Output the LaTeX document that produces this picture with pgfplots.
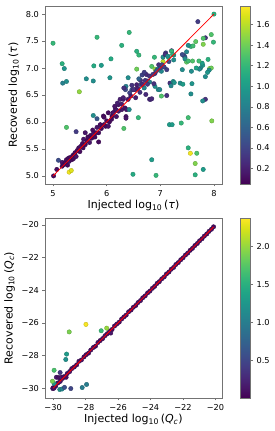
\documentclass[border=0pt]{standalone}
\usepackage{fontspec}
\setmainfont{DejaVu Sans}
\usepackage{pgfplots}
\pgfplotsset{compat=1.18}
\pgfplotstableread{
x y c
5.00 7.46 1.20
5.17 7.08 1.15
5.21 6.99 0.95
5.18 6.72 0.80
5.25 6.75 0.90
5.49 6.56 1.50
5.25 5.90 1.30
5.43 5.82 0.35
5.62 6.80 0.90
5.76 7.04 1.10
5.75 6.76 0.90
5.82 7.57 1.20
5.90 7.05 1.00
6.08 7.17 1.10
6.06 6.82 0.95
6.28 7.42 1.15
6.42 7.66 1.20
6.40 6.82 0.90
6.56 7.31 1.15
6.60 7.24 1.20
6.56 6.98 1.40
6.32 5.88 1.30
6.59 6.08 1.20
6.49 5.03 1.10
6.84 5.30 1.00
6.92 5.01 1.20
7.17 5.95 1.00
7.22 5.95 1.00
7.39 5.98 1.20
7.52 6.08 1.25
7.96 6.02 1.45
7.52 5.52 1.15
7.56 5.42 1.75
7.68 5.42 1.30
7.65 5.23 1.45
7.80 5.12 1.00
7.65 5.02 1.15
5.30 5.07 1.75
5.34 5.10 1.70
6.89 7.20 1.20
6.84 7.03 1.30
6.90 6.98 1.50
7.05 7.12 1.60
8.00 8.00 1.15
7.70 7.86 0.35
7.95 7.62 1.30
7.84 7.56 0.30
7.80 7.55 1.30
7.66 7.49 1.35
7.80 7.44 1.45
7.99 7.48 1.20
7.57 7.40 1.20
7.61 7.41 1.25
7.52 7.42 0.90
7.49 7.30 0.85
7.44 7.23 0.45
7.46 7.20 0.50
7.60 7.13 1.30
7.49 7.11 1.35
7.89 7.16 1.15
7.79 7.05 0.95
7.75 7.00 0.90
7.73 6.98 0.85
7.92 6.99 1.45
7.95 7.00 1.40
7.91 6.96 0.90
7.88 6.92 0.95
7.41 6.97 0.90
7.58 6.94 0.90
7.84 6.84 0.90
7.57 6.52 0.90
7.84 6.42 0.30
7.79 6.39 0.90
7.37 6.72 0.90
7.42 6.70 1.00
7.59 6.71 0.95
7.67 7.00 1.05
7.78 7.09 1.00
7.72 7.13 1.25
7.41 7.25 0.45
7.46 7.17 0.90
7.52 7.13 1.25
7.21 7.32 0.30
7.10 7.28 0.35
7.10 7.25 0.30
7.25 7.24 0.90
7.15 7.20 1.20
7.25 7.15 0.90
7.05 7.20 0.90
6.97 7.06 0.30
7.09 7.25 0.30
7.21 7.31 1.20
7.23 7.25 1.15
7.14 7.22 0.90
7.02 6.94 0.85
7.12 6.97 0.35
7.18 6.72 0.30
7.24 6.75 0.90
7.26 6.73 0.95
7.20 6.67 0.85
7.12 6.49 0.30
7.02 6.48 1.30
6.96 6.60 0.90
6.99 6.60 0.85
6.90 6.66 0.90
6.80 6.42 0.25
6.63 6.77 0.25
6.56 6.69 0.20
6.53 6.60 0.25
6.47 6.60 0.45
6.43 6.54 0.40
6.36 6.66 0.80
6.35 6.60 0.45
6.64 6.69 0.45
6.70 6.63 0.85
6.74 6.88 0.25
6.80 6.85 0.30
6.77 6.76 0.30
6.80 6.74 0.80
6.25 6.42 0.20
6.31 6.42 0.20
6.22 6.32 0.15
6.28 6.23 0.15
6.34 6.26 0.15
6.37 6.23 0.15
6.42 6.23 0.85
6.16 6.24 0.15
6.12 6.17 0.10
6.10 6.11 0.10
5.94 6.11 0.10
6.36 6.10 0.15
6.54 6.45 0.20
6.73 6.51 0.25
6.82 6.42 0.25
6.88 6.71 0.30
6.84 6.43 0.25
6.47 6.68 0.30
6.50 6.60 0.30
6.32 6.63 0.30
6.31 6.45 0.20
6.36 6.07 0.15
6.15 6.29 0.15
6.20 6.35 0.20
6.60 6.80 0.60
6.66 6.87 0.40
6.70 6.92 0.35
6.90 6.90 0.30
6.95 6.98 0.80
7.00 7.00 0.40
6.86 6.88 0.35
6.93 6.95 0.45
7.03 7.06 0.40
6.72 6.77 0.30
6.67 6.70 0.25
6.58 6.62 0.20
6.45 6.48 0.20
6.40 6.42 0.15
6.28 6.33 0.20
6.18 6.22 0.15
6.62 6.55 0.30
6.76 6.70 0.35
7.07 7.02 0.40
7.16 7.12 0.45
5.01 5.00 0.10
5.07 5.12 0.10
5.10 5.29 0.45
5.17 5.18 0.10
5.17 5.25 0.15
5.20 5.21 0.10
5.23 5.25 0.10
5.25 5.30 0.10
5.27 5.20 0.10
5.29 5.33 0.10
5.32 5.34 0.10
5.30 5.27 0.15
5.35 5.30 0.10
5.37 5.38 0.10
5.38 5.32 0.10
5.40 5.40 0.10
5.41 5.43 0.10
5.43 5.36 0.15
5.45 5.47 0.10
5.48 5.52 0.10
5.50 5.45 0.10
5.52 5.55 0.15
5.55 5.60 0.10
5.57 5.68 0.15
5.56 5.52 0.10
5.60 5.80 0.15
5.60 5.58 0.10
5.63 5.65 0.10
5.65 5.72 0.10
5.68 5.62 0.15
5.70 5.75 0.10
5.72 5.70 0.10
5.75 5.78 0.15
5.78 5.72 0.10
5.74 5.85 0.10
5.80 5.80 0.10
5.85 5.80 0.10
5.85 5.63 0.10
5.82 5.90 0.15
5.88 5.95 0.10
5.90 5.88 0.10
5.95 6.09 0.10
5.95 5.95 0.10
5.98 5.92 0.10
6.00 6.02 0.10
6.03 5.92 0.15
6.05 6.00 0.10
6.09 6.05 0.10
6.12 6.17 0.15
5.75 6.12 0.90
5.82 6.06 0.50
6.03 6.17 0.10
6.18 6.10 0.15
6.22 6.20 0.20
}\toptab
\pgfplotstableread{
x y c
-30.00 -29.97 0.08
-29.85 -29.88 0.10
-29.71 -29.68 0.08
-29.56 -29.58 0.12
-29.42 -29.40 0.10
-29.28 -29.30 0.08
-29.13 -29.10 0.10
-28.98 -28.98 0.12
-28.85 -28.80 0.08
-28.70 -28.70 0.10
-28.55 -28.57 0.08
-28.41 -28.35 0.10
-28.26 -28.27 0.12
-28.10 -28.08 0.08
-27.97 -27.95 0.10
-27.82 -27.85 0.08
-27.68 -27.66 0.10
-27.52 -27.50 0.12
-27.39 -27.42 0.08
-27.24 -27.20 0.10
-27.10 -27.08 0.08
-26.95 -26.96 0.10
-26.80 -26.78 0.12
-26.66 -26.66 0.08
-26.52 -26.50 0.10
-26.37 -26.40 0.08
-26.22 -26.19 0.10
-26.08 -26.07 0.12
-25.93 -25.95 0.08
-25.78 -25.76 0.10
-25.64 -25.63 0.08
-25.50 -25.52 0.10
-25.35 -25.32 0.12
-25.20 -25.21 0.08
-25.06 -25.04 0.10
-24.91 -24.93 0.08
-24.77 -24.75 0.10
-24.62 -24.63 0.12
-24.48 -24.46 0.08
-24.33 -24.34 0.10
-24.18 -24.16 0.08
-24.04 -24.05 0.10
-23.89 -23.88 0.12
-23.75 -23.76 0.08
-23.60 -23.58 0.10
-23.46 -23.47 0.08
-23.31 -23.30 0.10
-23.16 -23.18 0.12
-23.02 -23.00 0.08
-22.87 -22.88 0.10
-22.73 -22.71 0.08
-22.58 -22.60 0.10
-22.44 -22.42 0.12
-22.29 -22.30 0.08
-22.14 -22.13 0.10
-22.00 -22.01 0.08
-21.85 -21.84 0.10
-21.71 -21.72 0.12
-21.56 -21.55 0.08
-21.42 -21.43 0.10
-21.27 -21.26 0.08
-21.12 -21.13 0.10
-20.98 -20.97 0.12
-20.83 -20.84 0.08
-20.69 -20.68 0.10
-20.54 -20.55 0.08
-20.40 -20.39 0.10
-20.25 -20.26 0.12
-20.12 -20.11 0.08
-29.80 -29.33 0.15
-29.65 -29.35 0.10
-29.50 -29.34 0.15
-29.35 -29.30 0.10
-29.20 -29.33 0.10
-30.02 -30.02 0.10
-29.95 -30.00 0.10
-29.59 -30.08 1.20
-29.45 -30.05 1.10
-29.30 -29.95 0.60
-28.91 -30.02 0.50
-28.21 -29.96 1.00
-27.94 -29.77 1.00
-29.94 -29.71 1.20
-30.04 -29.57 1.90
-29.94 -28.90 1.70
-29.57 -29.04 0.40
-29.17 -27.91 1.30
-29.22 -28.24 1.20
-29.01 -26.55 1.90
-27.98 -26.09 2.35
-26.70 -26.32 2.00
-27.04 -26.48 1.60
-26.45 -26.62 0.15
}\bottab
\pgfplotsset{
  myax/.style={
    scale only axis, width=177pt, clip marker paths=true,
    axis line style={draw=black!55, line width=0.6pt},
    tick pos=left, tick align=outside, major tick length=2.5pt,
    tick style={draw=black!55, line width=0.5pt},
    ticklabel style={font=\fontsize{8.2}{9}\selectfont, text=black},
    label style={font=\fontsize{11}{13}\selectfont},
    xlabel style={yshift=2.5pt},
    /pgf/number format/assume math mode=true,
    colorbar, colormap name=viridis,
    colorbar style={
      width=10pt, at={(parent axis.north east)}, anchor=north west, xshift=10pt,
      axis line style={draw=black!55, line width=0.6pt},
      ytick pos=right, yticklabel pos=right, tick align=outside, major tick length=2.5pt,
      tick style={draw=black!55, line width=0.5pt},
      yticklabel style={font=\fontsize{8.2}{9}\selectfont, text=black},
      /pgf/number format/assume math mode=true,
    },
  },
}
\begin{document}
\begin{tikzpicture}
\useasboundingbox (0,0) rectangle (274pt,431pt);
\begin{axis}[myax, at={(45pt,247pt)}, anchor=south west, height=178pt,
  xmin=4.85, xmax=8.15, ymin=4.85, ymax=8.15,
  xtick={5,6,7,8}, xticklabels={5,6,7,8},
  ytick={5,5.5,6,6.5,7,7.5,8}, yticklabels={5.0,5.5,6.0,6.5,7.0,7.5,8.0},
  point meta min=0.05, point meta max=1.78,
  colorbar style={ytick={0.2,0.4,0.6,0.8,1.0,1.2,1.4,1.6}, yticklabels={0.2,0.4,0.6,0.8,1.0,1.2,1.4,1.6}},
  xlabel={Injected log\textsubscript{10}\,(\textit{τ})},
  ylabel={Recovered log\textsubscript{10}\,(\textit{τ})},
]
\addplot[scatter, only marks, mark=*, mark size=2.2pt, point meta=explicit] table[x=x, y=y, meta=c] {\toptab};
\addplot[red, line width=0.8pt, no marks] coordinates {(5,5) (8,8)};
\end{axis}
\begin{axis}[myax, at={(45pt,33pt)}, anchor=south west, height=180pt,
  xmin=-30.5, xmax=-19.6, ymin=-30.6, ymax=-19.57,
  xtick={-30,-28,-26,-24,-22,-20}, xticklabels={−30,−28,−26,−24,−22,−20},
  ytick={-30,-28,-26,-24,-22,-20}, yticklabels={−30,−28,−26,−24,−22,−20},
  point meta min=0.01, point meta max=2.37,
  colorbar style={ytick={0.5,1.0,1.5,2.0}, yticklabels={0.5,1.0,1.5,2.0}},
  xlabel={Injected log\textsubscript{10}\,(\textit{Q}\textsubscript{\textit{c}})},
  ylabel={Recovered log\textsubscript{10}\,(\textit{Q}\textsubscript{\textit{c}})},
]
\addplot[scatter, only marks, mark=*, mark size=2.2pt, point meta=explicit] table[x=x, y=y, meta=c] {\bottab};
\addplot[red, line width=0.8pt, no marks] coordinates {(-30,-30) (-20.12,-20.12)};
\end{axis}
\end{tikzpicture}
\end{document}
